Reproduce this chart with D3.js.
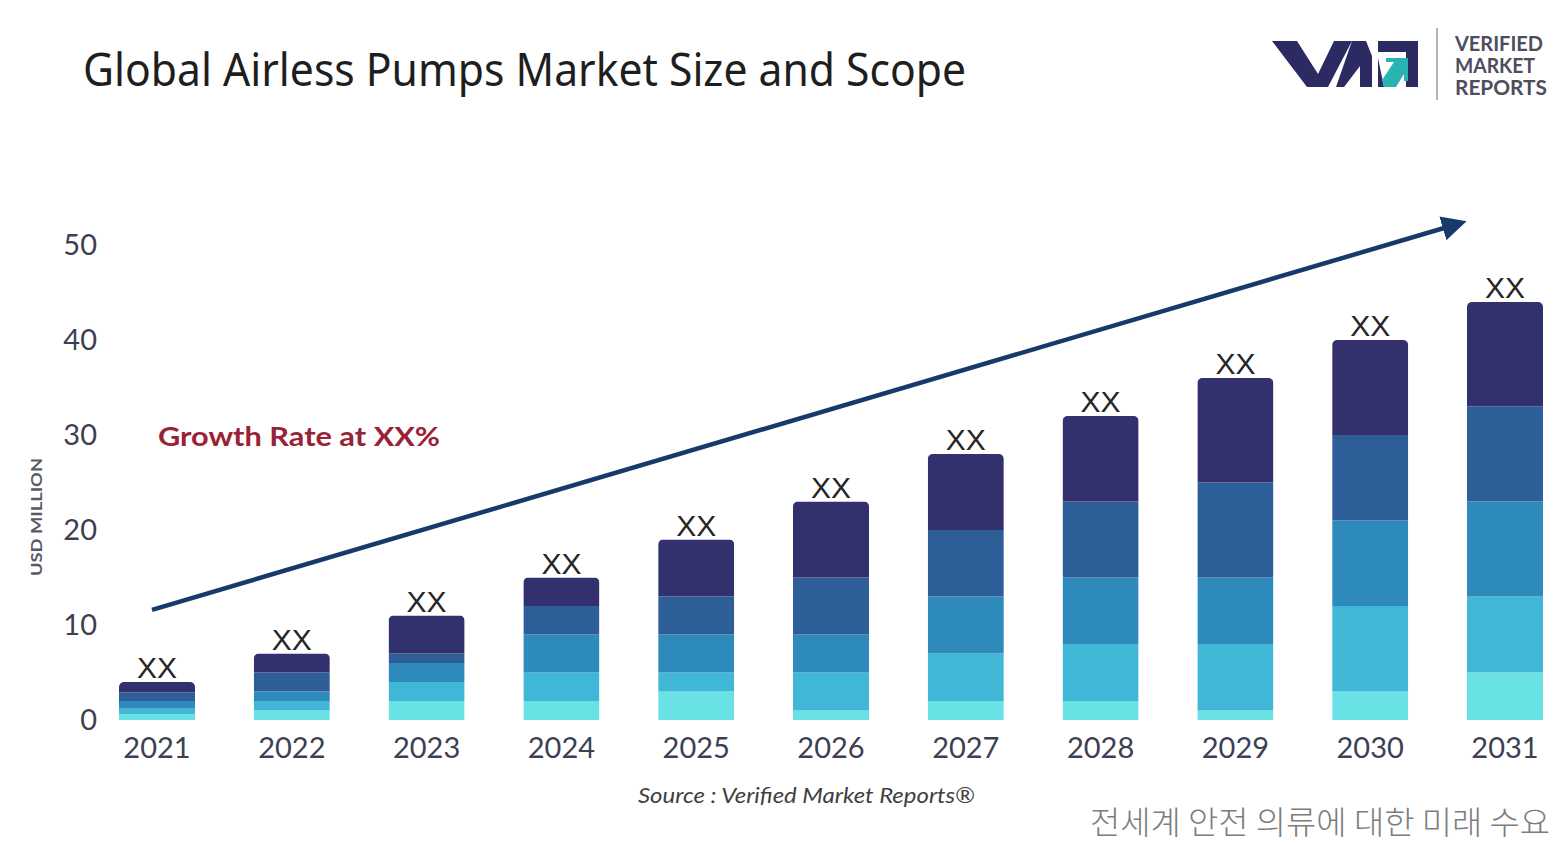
<!DOCTYPE html>
<html>
<head>
<meta charset="utf-8">
<script src="https://cdn.jsdelivr.net/npm/d3@7"></script>
<style>
  body { margin: 0; background: #fff; }
  svg { display: block; }
</style>
</head>
<body>
<div id="chart"></div>
<script>
const WIDTH = 1555;
const HEIGHT = 844;

// data (USD million, bottom segment first)
const years = ["2021", "2022", "2023", "2024", "2025", "2026", "2027", "2028", "2029", "2030", "2031"];
const seg1 = [0.6, 1, 2, 2, 3, 1, 2, 2, 1, 3, 5];
const seg2 = [0.6, 1, 2, 3, 2, 4, 5, 6, 7, 9, 8];
const seg3 = [0.8, 1, 2, 4, 4, 4, 6, 7, 7, 9, 10];
const seg4 = [0.9, 2, 1, 3, 4, 6, 7, 8, 10, 9, 10];
const seg5 = [1.1, 2, 4, 3, 6, 8, 8, 9, 11, 10, 11];
const barLabels = ["XX", "XX", "XX", "XX", "XX", "XX", "XX", "XX", "XX", "XX", "XX"];
const yTicks = [0, 10, 20, 30, 40, 50];
const segKeys = ["s1", "s2", "s3", "s4", "s5"];
const segColors = ["#69e2e6", "#41b7d8", "#2d8aba", "#2d5e98", "#32316e"];
// growth arrow, in data units
const arrowFrom = { year: "2021", value: 11.6 };
const arrowTo = { year: "2031", value: 52.5 };

const table = years.map((y, i) => ({
    year: y, s1: seg1[i], s2: seg2[i], s3: seg3[i], s4: seg4[i], s5: seg5[i], label: barLabels[i]
}));
table.forEach(d => { d.total = d.s1 + d.s2 + d.s3 + d.s4 + d.s5; });

const svg = d3.select("#chart")
    .append("svg")
    .attr("width", WIDTH)
    .attr("height", HEIGHT);

// scales
const X_SCALE = d3.scaleBand()
    .domain(years)
    .range([119, 1543])
    .paddingInner(0.436)
    .paddingOuter(0);

const Y_SCALE = d3.scaleLinear()
    .domain([0, 50])
    .range([720, 245]);

// title
svg.append("text")
    .attr("x", 83)
    .attr("y", 86)
    .attr("font-family", "Noto Sans")
    .attr("font-size", 45)
    .attr("fill", "#1e1e1e")
    .attr("textLength", 883)
    .attr("lengthAdjust", "spacingAndGlyphs")
    .text("Global Airless Pumps Market Size and Scope");

// logo
const logo = svg.append("g");
logo.append("polygon")
    .attr("points", "1272,41 1297,41 1318,74 1334,41 1352,41 1328,87 1307,87")
    .attr("fill", "#2c2a63");
logo.append("polygon")
    .attr("points", "1352,41 1366,41 1372,56 1372,87 1360,87 1360,66 1344,87 1336,87")
    .attr("fill", "#2c2a63");
logo.append("polygon")
    .attr("points", "1378,41 1418,41 1418,87 1406,87 1406,52 1378,52")
    .attr("fill", "#2c2a63");
logo.append("polygon")
    .attr("points", "1378,58 1378,87 1384,87")
    .attr("fill", "#2c2a63");
logo.append("polygon")
    .attr("points", "1384,87 1396,87 1404,74 1404,81 1408,81 1408,58 1386,58 1386,62 1394,62 1382,80")
    .attr("fill", "#2ab3b1");
logo.append("line")
    .attr("x1", 1437).attr("x2", 1437)
    .attr("y1", 28).attr("y2", 100)
    .attr("stroke", "#9a9aa5")
    .attr("stroke-width", 1.5);
const logoWords = ["VERIFIED", "MARKET", "REPORTS"];
const logoWidths = [88, 80, 92];
logo.selectAll(".logoWord")
    .data(logoWords)
    .enter()
    .append("text")
    .attr("class", "logoWord")
    .attr("x", 1455)
    .attr("y", (d, i) => 51 + i * 22)
    .attr("font-family", "Lato")
    .attr("font-weight", 700)
    .attr("font-size", 20)
    .attr("fill", "#4d4d5e")
    .attr("textLength", (d, i) => logoWidths[i])
    .attr("lengthAdjust", "spacingAndGlyphs")
    .text(d => d);

// y axis, labels only
const yAxis = svg.append("g")
    .attr("transform", "translate(100,0)")
    .call(d3.axisLeft(Y_SCALE).tickValues(yTicks).tickSize(0).tickPadding(3));
yAxis.select(".domain").remove();
yAxis.selectAll("text")
    .attr("font-family", "Lato")
    .attr("font-size", 29)
    .attr("fill", "#3c4052");

svg.append("text")
    .attr("transform", "translate(42,517) rotate(-90)")
    .attr("text-anchor", "middle")
    .attr("font-family", "Lato")
    .attr("font-weight", 700)
    .attr("font-size", 15)
    .attr("fill", "#5a5a66")
    .attr("textLength", 118)
    .attr("lengthAdjust", "spacingAndGlyphs")
    .text("USD MILLION");

// x axis, labels only
const xAxis = svg.append("g")
    .attr("transform", "translate(0,733)")
    .call(d3.axisBottom(X_SCALE).tickSize(0).tickPadding(4));
xAxis.select(".domain").remove();
xAxis.selectAll("text")
    .attr("font-family", "Lato")
    .attr("font-size", 29)
    .attr("fill", "#3c4052");

// stacked bars with rounded tops
const stacked = d3.stack().keys(segKeys)(table);

const defs = svg.append("defs");
defs.selectAll("clipPath")
    .data(table)
    .enter()
    .append("clipPath")
    .attr("id", (d, i) => "clip" + i)
    .append("rect")
    .attr("x", d => X_SCALE(d.year))
    .attr("y", d => Y_SCALE(d.total))
    .attr("width", X_SCALE.bandwidth())
    .attr("height", d => Y_SCALE(0) - Y_SCALE(d.total) + 8)
    .attr("rx", 5);

const barGroups = svg.selectAll(".bar")
    .data(table)
    .enter()
    .append("g")
    .attr("class", "bar")
    .attr("clip-path", (d, i) => "url(#clip" + i + ")");

barGroups.each(function (d, i) {
    d3.select(this).selectAll("rect")
        .data(stacked.map((layer, k) => ({ seg: layer[i], color: segColors[k] })))
        .enter()
        .append("rect")
        .attr("x", X_SCALE(d.year))
        .attr("width", X_SCALE.bandwidth())
        .attr("y", s => Y_SCALE(s.seg[1]))
        .attr("height", s => Y_SCALE(s.seg[0]) - Y_SCALE(s.seg[1]))
        .attr("fill", s => s.color);
});

// value labels above bars
svg.selectAll(".valueLabel")
    .data(table)
    .enter()
    .append("text")
    .attr("class", "valueLabel")
    .attr("x", d => X_SCALE(d.year) + X_SCALE.bandwidth() / 2)
    .attr("y", d => Y_SCALE(d.total) - 4)
    .attr("text-anchor", "middle")
    .attr("font-family", "Liberation Sans")
    .attr("font-size", 30)
    .attr("fill", "#262626")
    .text(d => d.label);

// growth arrow
defs.append("marker")
    .attr("id", "arrowHead")
    .attr("viewBox", "0 0 10 10")
    .attr("refX", 3)
    .attr("refY", 5)
    .attr("markerWidth", 5.5)
    .attr("markerHeight", 5.5)
    .attr("orient", "auto")
    .append("path")
    .attr("d", "M0,0 L10,5 L0,10 Z")
    .attr("fill", "#173a6a");

svg.append("line")
    .attr("x1", X_SCALE(arrowFrom.year) + X_SCALE.bandwidth() / 2 - 5)
    .attr("y1", Y_SCALE(arrowFrom.value))
    .attr("x2", X_SCALE(arrowTo.year) + X_SCALE.bandwidth() / 2 - 55)
    .attr("y2", Y_SCALE(arrowTo.value) + 5)
    .attr("stroke", "#173a6a")
    .attr("stroke-width", 4.5)
    .attr("marker-end", "url(#arrowHead)");

svg.append("text")
    .attr("x", 158)
    .attr("y", 446)
    .attr("font-family", "Lato")
    .attr("font-weight", 700)
    .attr("font-size", 27)
    .attr("fill", "#9a2236")
    .attr("textLength", 282)
    .attr("lengthAdjust", "spacingAndGlyphs")
    .text("Growth Rate at XX%");

// source and footer
svg.append("text")
    .attr("x", 638)
    .attr("y", 803)
    .attr("font-family", "Lato")
    .attr("font-style", "italic")
    .attr("font-size", 22)
    .attr("fill", "#3f3f3f")
    .attr("textLength", 337)
    .attr("lengthAdjust", "spacingAndGlyphs")
    .text("Source :  Verified Market Reports®");

svg.append("text")
    .attr("x", 1090)
    .attr("y", 834)
    .attr("font-family", "Noto Sans CJK KR")
    .attr("font-weight", 300)
    .attr("font-size", 32)
    .attr("fill", "#7c7c7c")
    .attr("textLength", 460)
    .attr("lengthAdjust", "spacingAndGlyphs")
    .text("전세계 안전 의류에 대한 미래 수요");
</script>
</body>
</html>
